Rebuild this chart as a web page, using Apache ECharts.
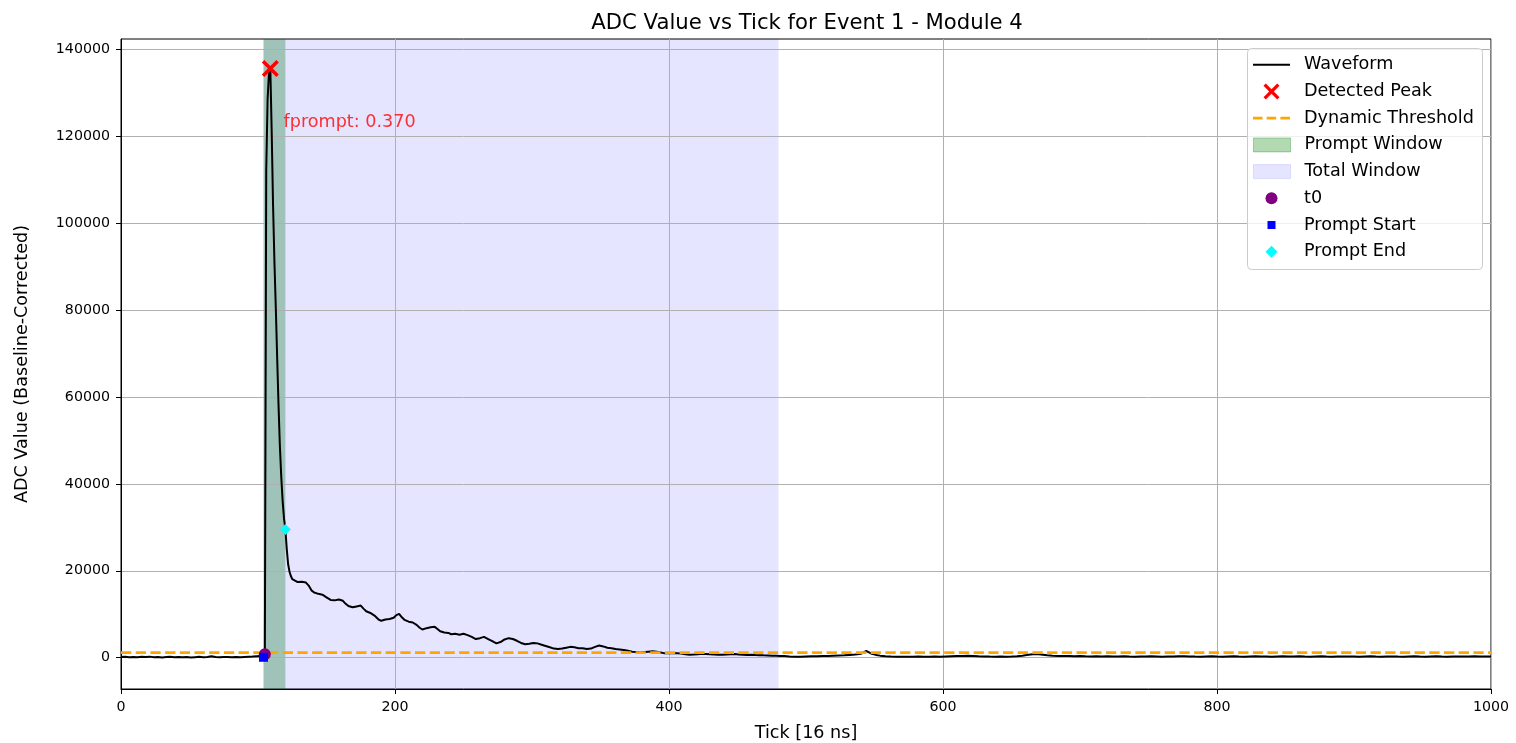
<!DOCTYPE html>
<html>
<head>
<meta charset="utf-8">
<title>ADC Value vs Tick for Event 1 - Module 4</title>
<script src="https://cdn.jsdelivr.net/npm/echarts@6/dist/echarts.min.js"></script>
<style>
  html, body { margin: 0; padding: 0; background: #ffffff; }
  #chart { width: 1516px; height: 743px; }
</style>
</head>
<body>
<div id="chart"></div>
<script>
// Baseline-corrected waveform, [tick, ADC value]
const preTrigger = [[0,150],[3,220],[6,120],[9,180],[12,90],[15,200],[18,160],[21,250],[24,130],[27,170],[30,60],[33,140],[36,210],[39,110],[42,180],[45,90],[48,150],[51,60],[54,130],[57,200],[60,120],[63,170],[66,320],[69,150],[72,100],[75,180],[78,140],[81,90],[84,160],[87,80],[90,140],[93,200],[96,260],[99,330],[102,380],[104,100]];
const pulse = [[105,800],[106,112000],[107,128500],[108,134500],[109,135600],[110,121000],[111,104000],[112,91000],[113,80500],[114,69000],[115,58000],[116,48500],[117,41500],[118,36000],[119,32000],[120,29500],[121,25000],[122,21500],[123,19800],[124,18800],[125,18100]];
const decay = [[126,17700],[129,17400],[132,17500],[135,17300],[137,16600],[139,15500],[141,15000],[144,14700],[147,14500],[150,13900],[153,13300],[156,13200],[159,13400],[162,13100],[164,12400],[166,11900],[169,11600],[172,11800],[175,12000],[177,11300],[179,10700],[182,10300],[185,9700],[188,8800],[190,8500],[193,8800],[196,8900],[199,9200],[201,9800],[203,10100],[205,9300],[207,8700],[210,8300],[213,8100],[216,7500],[218,6900],[220,6500],[223,6800],[226,7000],[229,7100],[231,6600],[233,6100],[236,5800],[239,5700],[241,5400],[244,5500],[247,5300],[250,5500],[253,5200],[256,4800],[259,4300],[262,4500],[265,4800],[268,4300],[271,3800],[274,3300],[277,3600],[280,4200],[283,4500],[286,4300],[289,3900],[292,3400],[295,3100],[298,3200],[301,3400],[304,3300],[307,3000],[310,2700],[313,2400],[316,2100],[319,2000],[322,2100],[325,2300],[328,2500],[331,2400],[334,2200],[337,2200],[340,2000],[343,2100],[346,2500],[349,2800],[352,2600],[355,2300],[358,2200],[361,2000],[364,1900],[367,1800],[370,1600],[373,1400],[376,1300],[379,1200],[382,1300],[385,1400],[388,1500],[391,1400],[394,1200],[397,1000],[400,1000],[403,1100],[406,1050],[409,950],[412,800],[415,700],[418,750],[421,820],[424,900],[427,850],[430,780],[433,720],[436,700],[439,680],[442,740],[445,800],[448,850],[451,720],[454,660],[457,640],[460,700],[463,620],[466,580],[469,540],[472,520],[475,470],[478,440],[481,400]];
const tail = [[484,380],[488,300],[492,240],[496,210],[500,280],[504,330],[508,360],[512,420],[516,400],[520,470],[524,520],[528,560],[532,650],[536,720],[540,900],[542,1250],[544,1550],[546,1250],[548,900],[551,650],[554,480],[558,350],[562,280],[566,230],[570,200],[574,250],[578,220],[582,260],[586,200],[590,240],[594,280],[598,230],[602,300],[606,340],[610,380],[614,420],[618,460],[622,400],[626,330],[630,290],[634,260],[638,240],[642,280],[646,250],[650,300],[654,360],[658,450],[661,600],[664,760],[667,860],[670,800],[673,680],[676,560],[680,460],[684,420],[688,380],[692,400],[696,350],[700,380],[704,330],[708,300],[712,340],[716,280],[720,310],[724,260],[728,300],[732,340],[736,290],[740,250],[744,300],[748,270],[752,320],[756,280],[760,240],[764,290],[768,260],[772,310],[776,340],[780,300],[784,260],[788,230],[792,280],[796,310],[800,270],[804,240],[808,290],[812,320],[816,280],[820,250],[824,300],[828,340],[832,290],[836,260],[840,230],[844,280],[848,310],[852,270],[856,300],[860,330],[864,280],[868,250],[872,290],[876,320],[880,270],[884,240],[888,280],[892,260],[896,300],[900,270],[904,240],[908,280],[912,310],[916,260],[920,230],[924,280],[928,300],[932,270],[936,250],[940,290],[944,320],[948,280],[952,250],[956,290],[960,310],[964,270],[968,240],[972,280],[976,300],[980,260],[984,290],[988,320],[992,270],[996,300],[1000,280]];

// Pulse features
const peakPoint = [109, 135600];
const t0Point = [105, 800];
const promptStartPoint = [104, 100];
const promptEndPoint = [120, 29500];
const dynamicThreshold = 1170;
const promptWindow = [104, 120];
const totalWindow = [104, 480];
const fpromptValue = 0.370;

// Axes
const xRange = [0, 1000];
const yRange = [-7200, 142400];
const yTickValues = [0, 20000, 40000, 60000, 80000, 100000, 120000, 140000];

const waveform = preTrigger.concat(pulse, decay, tail);

const FONT = 'DejaVu Sans';
const xMarkPath = 'path://M0,2.3 L2.3,0 L8,5.7 L13.7,0 L16,2.3 L10.3,8 L16,13.7 L13.7,16 L8,10.3 L2.3,16 L0,13.7 L5.7,8 Z';
const squarePath = 'path://M0,0 L8,0 L8,8 L0,8 Z';
const diamondPath = 'path://M6,0 L12,6 L6,12 L0,6 Z';
const solidLinePath = 'path://M0,0 L37,0 L37,2 L0,2 Z';
const dashedLinePath = 'path://M0,0 L9.5,0 L9.5,2.8 L0,2.8 Z M13.7,0 L23.2,0 L23.2,2.8 L13.7,2.8 Z M27.4,0 L37,0 L37,2.8 L27.4,2.8 Z';

// One legend block per row so each marker keeps its own size;
// w is the drawn icon width inside the 37px key slot
const ICON_SLOT = 37;
const legendRows = [
  { name: 'Waveform', icon: solidLinePath, h: 14, w: 37, style: { color: '#000000' } },
  { name: 'Detected Peak', icon: xMarkPath, h: 16, w: 16, style: { color: '#ff0000' } },
  { name: 'Dynamic Threshold', icon: dashedLinePath, h: 14, w: 37, style: { color: '#ffa500' } },
  { name: 'Prompt Window', icon: 'rect', h: 14, w: 37, style: { color: 'rgba(0,128,0,0.3)', borderColor: 'rgba(0,128,0,0.3)', borderWidth: 1 } },
  { name: 'Total Window', icon: 'rect', h: 14, w: 37, style: { color: 'rgba(0,0,255,0.1)', borderColor: 'rgba(0,0,255,0.1)', borderWidth: 1 } },
  { name: 't0', icon: 'circle', h: 12, w: 12, style: { color: '#800080' } },
  { name: 'Prompt Start', icon: squarePath, h: 8, w: 8, style: { color: '#0000ff' } },
  { name: 'Prompt End', icon: diamondPath, h: 12, w: 12, style: { color: '#00ffff' } }
];
const legendLeft = 1253;
const legendRowCenter0 = 64.6;
const legendRowStep = 26.7;

const legends = legendRows.map((row, i) => ({
  show: true,
  orient: 'vertical',
  left: legendLeft + (ICON_SLOT - row.w) / 2,
  top: legendRowCenter0 + i * legendRowStep - 8.8,
  padding: 0,
  itemWidth: ICON_SLOT,
  itemHeight: row.h,
  symbolKeepAspect: true,
  selectedMode: false,
  z: 12,
  textStyle: { fontFamily: FONT, fontSize: 17.6, color: '#000', padding: [0, 0, 0, 9] },
  data: [{
    name: row.name,
    icon: row.icon,
    itemStyle: Object.assign({ borderWidth: 0, opacity: 1 }, row.style)
  }]
}));

const chart = echarts.init(document.getElementById('chart'), null, { renderer: 'canvas' });

chart.setOption({
  animation: false,
  backgroundColor: '#ffffff',
  title: {
    text: 'ADC Value vs Tick for Event 1 - Module 4',
    left: 802,
    top: 8,
    textAlign: 'center',
    textStyle: { fontFamily: FONT, fontSize: 21.2, fontWeight: 'normal', color: '#000' }
  },
  grid: {
    left: 121, right: 25, top: 39, bottom: 54,
    outerBoundsMode: 'none',
    containLabel: false,
    show: true, borderColor: '#000', borderWidth: 1, backgroundColor: 'transparent'
  },
  legend: legends,
  graphic: [{
    type: 'rect',
    z: 10,
    silent: true,
    shape: { x: 1247.5, y: 48.5, width: 235, height: 221, r: 4 },
    style: { fill: 'rgba(255,255,255,0.8)', stroke: '#cccccc', lineWidth: 1 }
  }],
  xAxis: {
    type: 'value',
    min: xRange[0], max: xRange[1], interval: 200,
    z: 2,
    name: 'Tick [16 ns]',
    nameLocation: 'middle',
    nameGap: 35,
    nameTextStyle: { fontFamily: FONT, fontSize: 17.6, color: '#000' },
    axisLine: { show: true, onZero: false, lineStyle: { color: '#000', width: 1 } },
    axisTick: { show: true, inside: false, length: 5, lineStyle: { color: '#000', width: 1 } },
    axisLabel: { fontFamily: FONT, fontSize: 14.2, color: '#000', margin: 11, formatter: v => String(v) },
    splitLine: { show: true, lineStyle: { color: '#b0b0b0', width: 1 } }
  },
  yAxis: {
    type: 'value',
    min: yRange[0], max: yRange[1],
    z: 2,
    name: 'ADC Value (Baseline-Corrected)',
    nameLocation: 'middle',
    nameGap: 90,
    nameTextStyle: { fontFamily: FONT, fontSize: 17.6, color: '#000' },
    axisLine: { show: true, onZero: false, lineStyle: { color: '#000', width: 1 } },
    axisTick: { show: true, inside: false, length: 5, customValues: yTickValues, lineStyle: { color: '#000', width: 1 } },
    axisLabel: { fontFamily: FONT, fontSize: 14.2, color: '#000', margin: 11, customValues: yTickValues, formatter: v => String(v) },
    splitLine: { show: true, lineStyle: { color: '#b0b0b0', width: 1 } }
  },
  series: [
    {
      name: 'Waveform',
      type: 'line',
      z: 3,
      data: waveform,
      symbol: 'none',
      lineStyle: { color: '#000000', width: 2 },
      itemStyle: { color: '#000000' }
    },
    {
      name: 'Detected Peak',
      type: 'scatter',
      z: 3,
      data: [peakPoint],
      symbol: xMarkPath,
      symbolSize: 17,
      itemStyle: { color: '#ff0000', opacity: 1 }
    },
    {
      name: 'Dynamic Threshold',
      type: 'line',
      z: 3,
      data: [[xRange[0], dynamicThreshold], [xRange[1], dynamicThreshold]],
      symbol: 'none',
      lineStyle: { color: '#ffa500', width: 2.8, type: [10.3, 4.4] },
      itemStyle: { color: '#ffa500' }
    },
    {
      name: 'Prompt Window',
      type: 'line',
      data: [],
      itemStyle: { color: 'rgba(0,128,0,0.3)' },
      markArea: {
        silent: true,
        z: 1,
        itemStyle: { color: 'rgba(0,128,0,0.3)', borderWidth: 0 },
        data: [[{ xAxis: promptWindow[0] }, { xAxis: promptWindow[1] }]]
      }
    },
    {
      name: 'Total Window',
      type: 'line',
      data: [],
      itemStyle: { color: 'rgba(0,0,255,0.1)' },
      markArea: {
        silent: true,
        z: 1,
        itemStyle: { color: 'rgba(0,0,255,0.1)', borderWidth: 0 },
        data: [[{ xAxis: totalWindow[0] }, { xAxis: totalWindow[1] }]]
      }
    },
    {
      name: 't0',
      type: 'scatter',
      z: 4,
      data: [t0Point],
      symbol: 'circle',
      symbolSize: 12,
      itemStyle: { color: '#800080', opacity: 1 }
    },
    {
      name: 'Prompt Start',
      type: 'scatter',
      z: 4,
      data: [promptStartPoint],
      symbol: 'rect',
      symbolSize: 9,
      itemStyle: { color: '#0000ff', opacity: 1 }
    },
    {
      name: 'Prompt End',
      type: 'scatter',
      z: 4,
      data: [promptEndPoint],
      symbol: 'diamond',
      symbolSize: 11,
      itemStyle: { color: '#00ffff', opacity: 1 }
    },
    {
      name: 'fprompt label',
      type: 'scatter',
      z: 5,
      silent: true,
      data: [[peakPoint[0] + 10, peakPoint[1] * 0.9]],
      symbolSize: 1,
      itemStyle: { color: 'rgba(0,0,0,0)' },
      label: {
        show: true,
        position: [0, 4],
        align: 'left',
        verticalAlign: 'bottom',
        fontFamily: FONT,
        fontSize: 17.6,
        color: '#ff0000',
        formatter: 'fprompt: ' + fpromptValue.toFixed(3)
      }
    }
  ]
});
</script>
</body>
</html>
